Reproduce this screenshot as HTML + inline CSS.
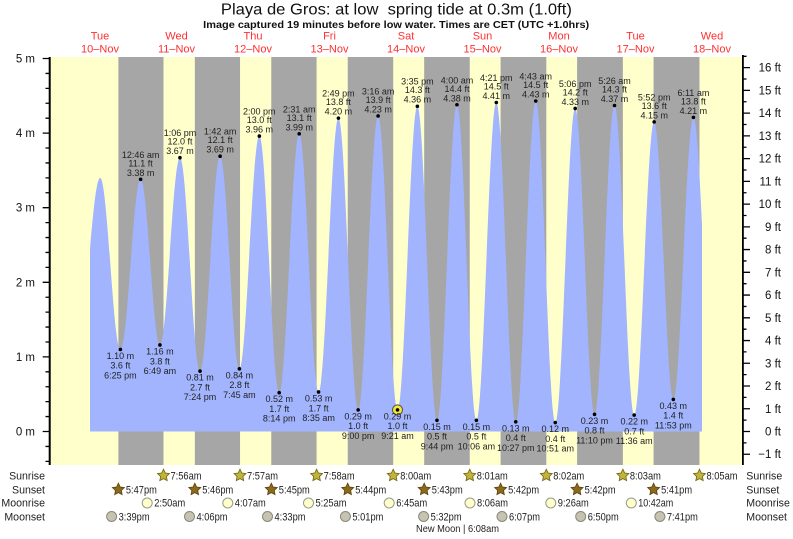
<!DOCTYPE html>
<html><head><meta charset="utf-8"><style>
html,body{margin:0;padding:0;background:#fff;}
svg{display:block;}
text{font-family:"Liberation Sans",Arial,sans-serif;}
</style></head><body>
<svg width="793" height="539" viewBox="0 0 793 539" xmlns="http://www.w3.org/2000/svg">
<defs>
<polygon id="star" points="0,-6.3 1.82,-2.51 5.99,-1.95 2.95,0.96 3.70,5.10 0,3.1 -3.70,5.10 -2.95,0.96 -5.99,-1.95 -1.82,-2.51"/>
<clipPath id="c"><rect x="90" y="50" width="612" height="381.5"/></clipPath>
</defs>
<rect width="793" height="539" fill="#fff"/>
<!-- title -->
<text x="396.4" y="14.5" font-size="16" text-anchor="middle" fill="#111" textLength="351" lengthAdjust="spacingAndGlyphs" style="white-space:pre">Playa de Gros: at low  spring tide at 0.3m (1.0ft)</text>
<text x="396.2" y="28" font-size="10" font-weight="bold" text-anchor="middle" fill="#111" textLength="386" lengthAdjust="spacingAndGlyphs">Image captured 19 minutes before low water. Times are CET (UTC +1.0hrs)</text>
<!-- day labels -->
<g font-size="11" fill="#ff3030" text-anchor="middle">
<text x="100" y="39.5">Tue</text><text x="100" y="52.5">10–Nov</text>
<text x="176.5" y="39.5">Wed</text><text x="176.5" y="52.5">11–Nov</text>
<text x="253" y="39.5">Thu</text><text x="253" y="52.5">12–Nov</text>
<text x="329.5" y="39.5">Fri</text><text x="329.5" y="52.5">13–Nov</text>
<text x="406" y="39.5">Sat</text><text x="406" y="52.5">14–Nov</text>
<text x="482.5" y="39.5">Sun</text><text x="482.5" y="52.5">15–Nov</text>
<text x="559" y="39.5">Mon</text><text x="559" y="52.5">16–Nov</text>
<text x="635.5" y="39.5">Tue</text><text x="635.5" y="52.5">17–Nov</text>
<text x="712" y="39.5">Wed</text><text x="712" y="52.5">18–Nov</text>
</g>
<!-- plot background -->
<rect x="50" y="57" width="692" height="408" fill="#ffffcc"/>
<g fill="#a6a6a6">
<rect x="118.38" y="57" width="45.11" height="408"/>
<rect x="194.83" y="57" width="45.21" height="408"/>
<rect x="271.28" y="57" width="45.32" height="408"/>
<rect x="347.73" y="57" width="45.47" height="408"/>
<rect x="424.17" y="57" width="45.58" height="408"/>
<rect x="500.61" y="57" width="45.70" height="408"/>
<rect x="577.12" y="57" width="45.74" height="408"/>
<rect x="653.57" y="57" width="45.90" height="408"/>
</g>
<!-- tide -->
<path clip-path="url(#c)" fill="#a1b4fd" d="M77.1,431.5 L77.1,353.17
C85.51,353.17 91.79,177.86 100.2,177.86
C107.55,177.86 113.05,349.44 120.4,349.44
C127.77,349.44 133.27,179.35 140.64,179.35
C147.66,179.35 152.91,344.96 159.93,344.96
C167.22,344.96 172.67,157.72 179.96,157.72
C187.27,157.72 192.73,371.07 200.04,371.07
C207.35,371.07 212.81,156.23 220.12,156.23
C227.14,156.23 232.38,368.84 239.40,368.84
C246.65,368.84 252.08,136.08 259.33,136.08
C266.56,136.08 271.96,392.71 279.19,392.71
C286.48,392.71 291.93,133.85 299.22,133.85
C306.26,133.85 311.52,391.96 318.56,391.96
C325.79,391.96 331.20,118.18 338.43,118.18
C345.60,118.18 350.97,409.87 358.14,409.87
C365.41,409.87 370.84,115.94 378.11,115.94
C385.17,115.94 390.44,409.87 397.50,409.87
C404.73,409.87 410.14,106.24 417.37,106.24
C424.50,106.24 429.84,420.31 436.97,420.31
C444.24,420.31 449.68,104.75 456.95,104.75
C464.03,104.75 469.31,420.31 476.39,420.31
C483.64,420.31 489.07,102.51 496.32,102.51
C503.40,102.51 508.68,421.80 515.76,421.80
C523.03,421.80 528.47,101.02 535.74,101.02
C542.85,101.02 548.17,422.55 555.28,422.55
C562.53,422.55 567.96,108.48 575.21,108.48
C582.25,108.48 587.50,414.34 594.54,414.34
C601.81,414.34 607.25,105.50 614.52,105.50
C621.68,105.50 627.02,415.09 634.18,415.09
C641.45,415.09 646.88,121.91 654.15,121.91
C661.13,121.91 666.35,399.42 673.33,399.42
C680.64,399.42 686.10,117.43 693.41,117.43
C700.80,117.43 706.31,397.93 713.7,397.93
L713.7,431.5 Z"/>
<!-- axes -->
<rect x="48.7" y="57" width="2" height="408" fill="#000"/>
<rect x="742" y="55" width="1.8" height="410" fill="#000"/>
<path stroke="#000" stroke-width="1.3" fill="none" d="
M42.7,431.5H49 M42.7,356.9H49 M42.7,282.3H49 M42.7,207.7H49 M42.7,133.1H49 M42.7,58.5H49
M45.5,461.34H49 M45.5,446.42H49 M45.5,416.58H49 M45.5,401.66H49 M45.5,386.74H49 M45.5,371.82H49
M45.5,341.98H49 M45.5,327.06H49 M45.5,312.14H49 M45.5,297.22H49 M45.5,267.38H49 M45.5,252.46H49
M45.5,237.54H49 M45.5,222.62H49 M45.5,192.78H49 M45.5,177.86H49 M45.5,162.94H49 M45.5,148.02H49
M45.5,118.18H49 M45.5,103.26H49 M45.5,88.34H49 M45.5,73.42H49
M743,454.24H750 M743,431.5H750 M743,408.76H750 M743,386.02H750 M743,363.28H750 M743,340.54H750
M743,317.8H750 M743,295.06H750 M743,272.32H750 M743,249.58H750 M743,226.84H750 M743,204.1H750
M743,181.36H750 M743,158.62H750 M743,135.88H750 M743,113.14H750 M743,90.4H750 M743,67.66H750
M743,442.87H746.5 M743,420.13H746.5 M743,397.39H746.5 M743,374.65H746.5 M743,351.91H746.5
M743,329.17H746.5 M743,306.43H746.5 M743,283.69H746.5 M743,260.95H746.5 M743,238.21H746.5
M743,215.47H746.5 M743,192.73H746.5 M743,169.99H746.5 M743,147.25H746.5 M743,124.51H746.5
M743,101.77H746.5 M743,79.03H746.5 M743,56.29H746.5"/>
<g font-size="11.5" fill="#111" text-anchor="end">
<text x="35" y="435.5">0 m</text><text x="35" y="360.9">1 m</text><text x="35" y="286.3">2 m</text>
<text x="35" y="211.7">3 m</text><text x="35" y="137.1">4 m</text><text x="35" y="62.5">5 m</text>
<text x="781" y="458.2">−1 ft</text><text x="781" y="435.5">0 ft</text><text x="781" y="412.8">1 ft</text>
<text x="781" y="390">2 ft</text><text x="781" y="367.3">3 ft</text><text x="781" y="344.5">4 ft</text>
<text x="781" y="321.8">5 ft</text><text x="781" y="299.1">6 ft</text><text x="781" y="276.3">7 ft</text>
<text x="781" y="253.6">8 ft</text><text x="781" y="230.8">9 ft</text><text x="781" y="208.1">10 ft</text>
<text x="781" y="185.4">11 ft</text><text x="781" y="162.6">12 ft</text><text x="781" y="139.9">13 ft</text>
<text x="781" y="117.1">14 ft</text><text x="781" y="94.4">15 ft</text><text x="781" y="71.7">16 ft</text>
</g>
<!-- current marker -->
<circle cx="397.5" cy="409.87" r="5" fill="#f2e838" stroke="#555" stroke-width="1"/>
<!-- dots -->
<g fill="#000">
<circle cx="140.64" cy="179.35" r="1.8"/><circle cx="179.96" cy="157.72" r="1.8"/>
<circle cx="220.12" cy="156.23" r="1.8"/><circle cx="259.33" cy="136.08" r="1.8"/>
<circle cx="299.22" cy="133.85" r="1.8"/><circle cx="338.43" cy="118.18" r="1.8"/>
<circle cx="378.11" cy="115.94" r="1.8"/><circle cx="417.37" cy="106.24" r="1.8"/>
<circle cx="456.95" cy="104.75" r="1.8"/><circle cx="496.32" cy="102.51" r="1.8"/>
<circle cx="535.74" cy="101.02" r="1.8"/><circle cx="575.21" cy="108.48" r="1.8"/>
<circle cx="614.52" cy="105.5" r="1.8"/><circle cx="654.15" cy="121.91" r="1.8"/>
<circle cx="693.41" cy="117.43" r="1.8"/>
<circle cx="120.4" cy="349.44" r="1.8"/><circle cx="159.93" cy="344.96" r="1.8"/>
<circle cx="200.04" cy="371.07" r="1.8"/><circle cx="239.4" cy="368.84" r="1.8"/>
<circle cx="279.19" cy="392.71" r="1.8"/><circle cx="318.56" cy="391.96" r="1.8"/>
<circle cx="358.14" cy="409.87" r="1.8"/><circle cx="397.5" cy="409.87" r="1.8"/>
<circle cx="436.97" cy="420.31" r="1.8"/><circle cx="476.39" cy="420.31" r="1.8"/>
<circle cx="515.76" cy="421.8" r="1.8"/><circle cx="555.28" cy="422.55" r="1.8"/>
<circle cx="594.54" cy="414.34" r="1.8"/><circle cx="634.18" cy="415.09" r="1.8"/>
<circle cx="673.33" cy="399.42" r="1.8"/>
</g>
<!-- tide labels -->
<g font-size="9" fill="#222" text-anchor="middle">
<text x="140.6" y="157.9">12:46 am</text><text x="140.6" y="166.4">11.1 ft</text><text x="140.6" y="175.9">3.38 m</text>
<text x="180" y="136.2">1:06 pm</text><text x="180" y="144.7">12.0 ft</text><text x="180" y="154.2">3.67 m</text>
<text x="220.1" y="134.7">1:42 am</text><text x="220.1" y="143.2">12.1 ft</text><text x="220.1" y="152.7">3.69 m</text>
<text x="259.3" y="114.6">2:00 pm</text><text x="259.3" y="123.1">13.0 ft</text><text x="259.3" y="132.6">3.96 m</text>
<text x="299.2" y="112.4">2:31 am</text><text x="299.2" y="120.9">13.1 ft</text><text x="299.2" y="130.4">3.99 m</text>
<text x="338.4" y="96.7">2:49 pm</text><text x="338.4" y="105.2">13.8 ft</text><text x="338.4" y="114.7">4.20 m</text>
<text x="378.1" y="94.4">3:16 am</text><text x="378.1" y="102.9">13.9 ft</text><text x="378.1" y="112.4">4.23 m</text>
<text x="417.4" y="84.7">3:35 pm</text><text x="417.4" y="93.2">14.3 ft</text><text x="417.4" y="102.7">4.36 m</text>
<text x="457" y="83.3">4:00 am</text><text x="457" y="91.8">14.4 ft</text><text x="457" y="101.3">4.38 m</text>
<text x="496.3" y="81">4:21 pm</text><text x="496.3" y="89.5">14.5 ft</text><text x="496.3" y="99">4.41 m</text>
<text x="535.7" y="79.5">4:43 am</text><text x="535.7" y="88">14.5 ft</text><text x="535.7" y="97.5">4.43 m</text>
<text x="575.2" y="87">5:06 pm</text><text x="575.2" y="95.5">14.2 ft</text><text x="575.2" y="105">4.33 m</text>
<text x="614.5" y="84">5:26 am</text><text x="614.5" y="92.5">14.3 ft</text><text x="614.5" y="102">4.37 m</text>
<text x="654.2" y="100.4">5:52 pm</text><text x="654.2" y="108.9">13.6 ft</text><text x="654.2" y="118.4">4.15 m</text>
<text x="693.4" y="95.9">6:11 am</text><text x="693.4" y="104.4">13.8 ft</text><text x="693.4" y="113.9">4.21 m</text>

<text x="120.4" y="358.9">1.10 m</text><text x="120.4" y="368.7">3.6 ft</text><text x="120.4" y="378.4">6:25 pm</text>
<text x="159.9" y="354.5">1.16 m</text><text x="159.9" y="364.3">3.8 ft</text><text x="159.9" y="374">6:49 am</text>
<text x="200" y="380.6">0.81 m</text><text x="200" y="390.4">2.7 ft</text><text x="200" y="400.1">7:24 pm</text>
<text x="239.4" y="378.3">0.84 m</text><text x="239.4" y="388.1">2.8 ft</text><text x="239.4" y="397.8">7:45 am</text>
<text x="279.2" y="402.2">0.52 m</text><text x="279.2" y="412">1.7 ft</text><text x="279.2" y="421.7">8:14 pm</text>
<text x="318.6" y="401.5">0.53 m</text><text x="318.6" y="411.3">1.7 ft</text><text x="318.6" y="421">8:35 am</text>
<text x="358.1" y="419.4">0.29 m</text><text x="358.1" y="429.2">1.0 ft</text><text x="358.1" y="438.9">9:00 pm</text>
<text x="397.5" y="419.4">0.29 m</text><text x="397.5" y="429.2">1.0 ft</text><text x="397.5" y="438.9">9:21 am</text>
<text x="437" y="429.8">0.15 m</text><text x="437" y="439.6">0.5 ft</text><text x="437" y="449.3">9:44 pm</text>
<text x="476.4" y="429.8">0.15 m</text><text x="476.4" y="439.6">0.5 ft</text><text x="476.4" y="449.3">10:06 am</text>
<text x="515.8" y="431.3">0.13 m</text><text x="515.8" y="441.1">0.4 ft</text><text x="515.8" y="450.8">10:27 pm</text>
<text x="555.3" y="432.1">0.12 m</text><text x="555.3" y="441.9">0.4 ft</text><text x="555.3" y="451.6">10:51 am</text>
<text x="594.5" y="423.8">0.23 m</text><text x="594.5" y="433.6">0.8 ft</text><text x="594.5" y="443.3">11:10 pm</text>
<text x="634.2" y="424.6">0.22 m</text><text x="634.2" y="434.4">0.7 ft</text><text x="634.2" y="444.1">11:36 am</text>
<text x="673.3" y="408.9">0.43 m</text><text x="673.3" y="418.7">1.4 ft</text><text x="673.3" y="428.4">11:53 pm</text>
</g>
<!-- bottom rows labels -->
<g font-size="10.6" fill="#222">
<text x="45" y="479.3" text-anchor="end">Sunrise</text>
<text x="45" y="493.3" text-anchor="end">Sunset</text>
<text x="45" y="506.7" text-anchor="end">Moonrise</text>
<text x="45" y="520.7" text-anchor="end">Moonset</text>
<text x="746.3" y="479.3">Sunrise</text>
<text x="746.3" y="493.3">Sunset</text>
<text x="746.3" y="506.7">Moonrise</text>
<text x="746.3" y="520.7">Moonset</text>
</g>
<!-- sunrise stars -->
<g fill="#c0b53a" stroke="#6e6212" stroke-width="0.8">
<use href="#star" x="163.5" y="475.5"/><use href="#star" x="240" y="475.5"/>
<use href="#star" x="316.6" y="475.5"/><use href="#star" x="393.2" y="475.5"/>
<use href="#star" x="469.75" y="475.5"/><use href="#star" x="546.3" y="475.5"/>
<use href="#star" x="622.9" y="475.5"/><use href="#star" x="699.5" y="475.5"/>
</g>
<g fill="#8c6a1c" stroke="#5a420c" stroke-width="0.8">
<use href="#star" x="118.4" y="489.5"/><use href="#star" x="194.8" y="489.5"/>
<use href="#star" x="271.3" y="489.5"/><use href="#star" x="347.7" y="489.5"/>
<use href="#star" x="424.2" y="489.5"/><use href="#star" x="500.6" y="489.5"/>
<use href="#star" x="577.1" y="489.5"/><use href="#star" x="653.6" y="489.5"/>
</g>
<g fill="#ffffcc" stroke="#9a9a8a" stroke-width="1">
<circle cx="147.2" cy="503" r="5"/><circle cx="227.8" cy="503" r="5"/>
<circle cx="308.5" cy="503" r="5"/><circle cx="389.2" cy="503" r="5"/>
<circle cx="470" cy="503" r="5"/><circle cx="550.8" cy="503" r="5"/>
<circle cx="631.3" cy="503" r="5"/>
</g>
<g fill="#c6c3b0" stroke="#8a887a" stroke-width="1">
<circle cx="111.6" cy="516.5" r="5"/><circle cx="189.5" cy="516.5" r="5"/>
<circle cx="267.5" cy="516.5" r="5"/><circle cx="345.4" cy="516.5" r="5"/>
<circle cx="423.6" cy="516.5" r="5"/><circle cx="502" cy="516.5" r="5"/>
<circle cx="580.7" cy="516.5" r="5"/><circle cx="659.9" cy="516.5" r="5"/>
</g>
<g font-size="10.6" fill="#222" lengthAdjust="spacingAndGlyphs">
<text x="170.5" y="479.3" textLength="31" lengthAdjust="spacingAndGlyphs">7:56am</text>
<text x="247" y="479.3" textLength="31" lengthAdjust="spacingAndGlyphs">7:57am</text>
<text x="323.6" y="479.3" textLength="31" lengthAdjust="spacingAndGlyphs">7:58am</text>
<text x="400.2" y="479.3" textLength="31" lengthAdjust="spacingAndGlyphs">8:00am</text>
<text x="476.8" y="479.3" textLength="31" lengthAdjust="spacingAndGlyphs">8:01am</text>
<text x="553.3" y="479.3" textLength="31" lengthAdjust="spacingAndGlyphs">8:02am</text>
<text x="629.9" y="479.3" textLength="31" lengthAdjust="spacingAndGlyphs">8:03am</text>
<text x="706.5" y="479.3" textLength="31" lengthAdjust="spacingAndGlyphs">8:05am</text>

<text x="125.9" y="493.3" textLength="31" lengthAdjust="spacingAndGlyphs">5:47pm</text>
<text x="202.3" y="493.3" textLength="31" lengthAdjust="spacingAndGlyphs">5:46pm</text>
<text x="278.8" y="493.3" textLength="31" lengthAdjust="spacingAndGlyphs">5:45pm</text>
<text x="355.2" y="493.3" textLength="31" lengthAdjust="spacingAndGlyphs">5:44pm</text>
<text x="431.7" y="493.3" textLength="31" lengthAdjust="spacingAndGlyphs">5:43pm</text>
<text x="508.1" y="493.3" textLength="31" lengthAdjust="spacingAndGlyphs">5:42pm</text>
<text x="584.6" y="493.3" textLength="31" lengthAdjust="spacingAndGlyphs">5:42pm</text>
<text x="661.1" y="493.3" textLength="31" lengthAdjust="spacingAndGlyphs">5:41pm</text>

<text x="154.2" y="506.7" textLength="31" lengthAdjust="spacingAndGlyphs">2:50am</text>
<text x="234.8" y="506.7" textLength="31" lengthAdjust="spacingAndGlyphs">4:07am</text>
<text x="315.5" y="506.7" textLength="31" lengthAdjust="spacingAndGlyphs">5:25am</text>
<text x="396.2" y="506.7" textLength="31" lengthAdjust="spacingAndGlyphs">6:45am</text>
<text x="477" y="506.7" textLength="31" lengthAdjust="spacingAndGlyphs">8:06am</text>
<text x="557.8" y="506.7" textLength="31" lengthAdjust="spacingAndGlyphs">9:26am</text>
<text x="638.3" y="506.7" textLength="35" lengthAdjust="spacingAndGlyphs">10:42am</text>

<text x="118.6" y="520.7" textLength="31" lengthAdjust="spacingAndGlyphs">3:39pm</text>
<text x="196.5" y="520.7" textLength="31" lengthAdjust="spacingAndGlyphs">4:06pm</text>
<text x="274.5" y="520.7" textLength="31" lengthAdjust="spacingAndGlyphs">4:33pm</text>
<text x="352.4" y="520.7" textLength="31" lengthAdjust="spacingAndGlyphs">5:01pm</text>
<text x="430.6" y="520.7" textLength="31" lengthAdjust="spacingAndGlyphs">5:32pm</text>
<text x="509" y="520.7" textLength="31" lengthAdjust="spacingAndGlyphs">6:07pm</text>
<text x="587.7" y="520.7" textLength="31" lengthAdjust="spacingAndGlyphs">6:50pm</text>
<text x="666.9" y="520.7" textLength="31" lengthAdjust="spacingAndGlyphs">7:41pm</text>
</g>
<text x="416" y="532" font-size="10" fill="#222" textLength="83" lengthAdjust="spacingAndGlyphs">New Moon | 6:08am</text>
</svg>
</body></html>
